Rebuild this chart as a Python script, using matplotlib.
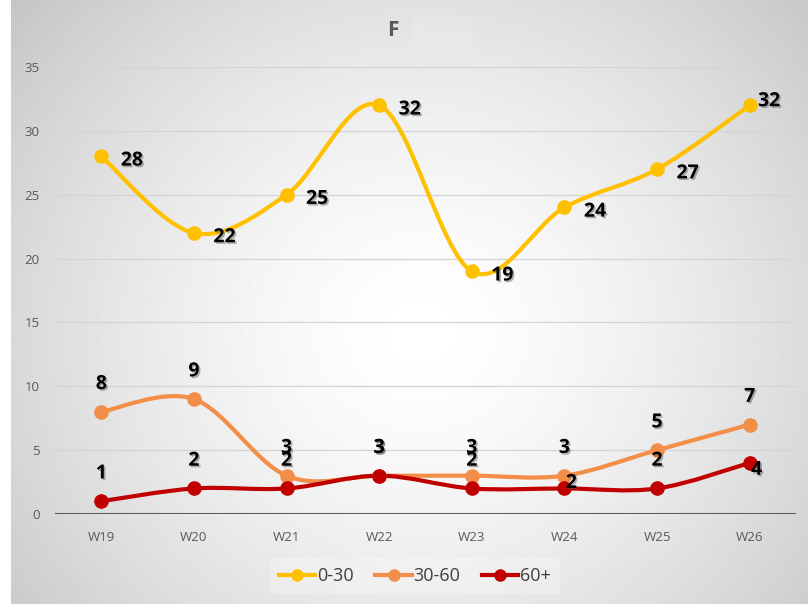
import numpy as np
import matplotlib
matplotlib.use("Agg")
import matplotlib.pyplot as plt
import matplotlib.patheffects as pe
from matplotlib.path import Path
from matplotlib.patches import PathPatch, Rectangle
from matplotlib.lines import Line2D

plt.rcParams['font.family'] = ['Open Sans', 'DejaVu Sans']

weeks = ['W19', 'W20', 'W21', 'W22', 'W23', 'W24', 'W25', 'W26']
s_0_30 = [28, 22, 25, 32, 19, 24, 27, 32]
s_30_60 = [8, 9, 3, 3, 3, 3, 5, 7]
s_60p = [1, 2, 2, 3, 2, 2, 2, 4]

series = [
    ('0-30', s_0_30, '#FFC000'),
    ('30-60', s_30_60, '#F28E48'),
    ('60+', s_60p, '#C00000'),
]

# label offsets in points, one per point
off_0_30 = [(14, -3)] * 7 + [(6, 3)]
off_30_60 = [(0, 20)] * 8
off_60p = [(0, 20)] * 5 + [(5, 4), (0, 20), (5, -5)]
offsets = [off_0_30, off_30_60, off_60p]
label_align = ['left', 'center', 'center']


def smooth_path(xs, ys):
    # Catmull-Rom style cubic Bezier through the points (like Excel's smoothed line)
    pts = np.column_stack([xs, ys]).astype(float)
    n = len(pts)
    verts = [pts[0]]
    codes = [Path.MOVETO]
    for i in range(n - 1):
        p0 = pts[i - 1] if i > 0 else pts[i]
        p1 = pts[i]
        p2 = pts[i + 1]
        p3 = pts[i + 2] if i + 2 < n else pts[i + 1]
        c1 = p1 + (p2 - p0) / 6.0
        c2 = p2 - (p3 - p1) / 6.0
        verts += [c1, c2, p2]
        codes += [Path.CURVE4] * 3
    return Path(verts, codes)


W, H = 808, 608
fig = plt.figure(figsize=(W / 100, H / 100), dpi=100)
fig.patch.set_facecolor('white')

# chart area with a radial gradient
bg = fig.add_axes([11 / W, 4 / H, 1 - 11 / W, 1 - 4 / H])
bg.set_axis_off()
yy, xx = np.mgrid[0:600, 0:797]
r = np.hypot((xx - 410) / 1.0, (yy - 330) / 0.95) / 540.0
shade = 1 - 0.23 * np.clip(r, 0, 1.2) ** 1.5
bg.imshow(shade, cmap='gray', vmin=0, vmax=1, aspect='auto', interpolation='bilinear')
bg.add_patch(Rectangle((402, 15), 60, 27, color='white', alpha=0.12, lw=0))

ax = fig.add_axes([55 / W, 94 / H, 741 / W, 447 / H])
ax.patch.set_alpha(0)
x = np.arange(len(weeks))
ax.set_xlim(-0.5, len(weeks) - 0.5)
ax.set_ylim(0, 35)
ax.set_yticks(range(0, 36, 5))
ax.set_xticks(x)
ax.set_xticklabels(weeks)
for s in ax.spines.values():
    s.set_visible(False)
ax.tick_params(axis='both', length=0, colors='#595959', labelsize=9.5)
ax.tick_params(axis='y', pad=11)
ax.tick_params(axis='x', pad=12)
ax.yaxis.grid(True, color='#d4d4d4', lw=0.9)
ax.set_axisbelow(True)
ax.axhline(0, color='#595959', lw=2.2, zorder=2)

shadow = [pe.SimplePatchShadow(offset=(1.2, -1.2), shadow_rgbFace='#555555', alpha=0.45), pe.Normal()]

handles = []
for (name, vals, col), offs, ha in zip(series, offsets, label_align):
    ax.add_patch(PathPatch(smooth_path(x, vals), fill=False, ec=col, lw=3,
                           capstyle='round', joinstyle='round', zorder=3))
    ax.plot(x, vals, 'o', color=col, ms=9.5, zorder=4)
    for xi, v, o in zip(x, vals, offs):
        ax.annotate(str(v), (xi, v), xytext=o, textcoords='offset points',
                    ha=ha, va='center', fontsize=14, fontweight='bold',
                    color='black', path_effects=shadow, zorder=5)
    handles.append(Line2D([], [], color=col, lw=3, marker='o', ms=8, label=name))

leg = fig.legend(handles=handles, loc='center', bbox_to_anchor=(415 / W, 1 - 576 / H),
                 ncol=3, frameon=True, fontsize=13, handlelength=2.0,
                 handletextpad=0.1, columnspacing=1.2, borderpad=0.5)
leg.get_frame().set_facecolor('white')
leg.get_frame().set_alpha(0.25)
leg.get_frame().set_edgecolor('none')
for t in leg.get_texts():
    t.set_color('#404040')

fig.text(393 / W, 1 - 30 / H, 'F', ha='center', va='center', fontsize=15,
         fontweight='bold', color='#595959')

fig.savefig('out.png', dpi=100)
